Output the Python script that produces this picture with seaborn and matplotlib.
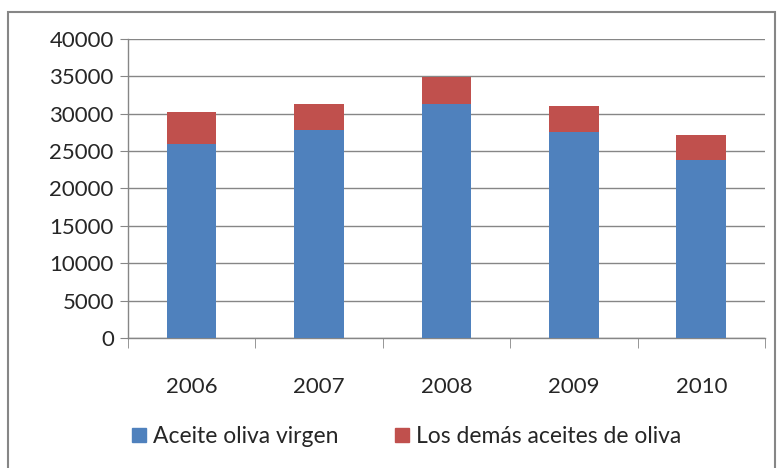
import matplotlib
matplotlib.use("Agg")
import matplotlib.pyplot as plt
import seaborn as sns
import pandas as pd
import numpy as np
from matplotlib.patches import Patch, Rectangle

# data
years = ["2006", "2007", "2008", "2009", "2010"]
virgen = [26000, 27850, 31250, 27600, 23850]
demas = [4200, 3400, 3650, 3400, 3350]
series_names = ["Aceite oliva virgen", "Los demás aceites de oliva"]

blue = "#4F81BD"
red = "#C0504D"
grid_gray = "#868686"

df = pd.DataFrame({"year": years, "virgen": virgen, "demas": demas})
df["total"] = df["virgen"] + df["demas"]

sns.set_style("white")
plt.rcParams["font.family"] = ["Lato", "DejaVu Sans"]

fig = plt.figure(figsize=(7.79, 4.68), dpi=100)
ax = fig.add_axes([0.164, 0.278, 0.818, 0.639])

# red drawn as full total, blue over it
sns.barplot(data=df, x="year", y="total", color=red, width=0.39,
            saturation=1, linewidth=0, ax=ax, zorder=3)
sns.barplot(data=df, x="year", y="virgen", color=blue, width=0.39,
            saturation=1, linewidth=0, ax=ax, zorder=4)

ax.set_ylim(0, 40000)
ax.set_xlim(-0.5, 4.5)
ax.set_yticks(np.arange(0, 40001, 5000))
ax.yaxis.grid(True, color=grid_gray, linewidth=1, zorder=0)
ax.set_axisbelow(True)
ax.set_xlabel("")
ax.set_ylabel("")

for s in ["top", "right"]:
    ax.spines[s].set_visible(False)
for s in ["left", "bottom"]:
    ax.spines[s].set_color(grid_gray)
    ax.spines[s].set_linewidth(1)

ax.tick_params(axis="y", length=6, color=grid_gray, labelsize=16, pad=4,
               left=True)
ax.tick_params(axis="x", length=0, labelsize=16, pad=28)
ax.set_xticks(np.arange(-0.5, 5, 1), minor=True)
ax.tick_params(axis="x", which="minor", length=7, color=grid_gray,
               bottom=True)

handles = [Patch(color=blue, label=series_names[0]),
           Patch(color=red, label=series_names[1])]
fig.legend(handles=handles, loc="center", bbox_to_anchor=(0.522, 0.067),
           ncol=2, frameon=False, fontsize=16.5, handlelength=0.6,
           handleheight=0.6, handletextpad=0.3, columnspacing=2.5)

# outer chart-area border
fig.patches.append(Rectangle((8 / 779, -0.05), 0.995 - 8 / 779, 1 - 12 / 468 + 0.05,
                             transform=fig.transFigure, fill=False,
                             edgecolor=grid_gray, linewidth=1.5))

fig.savefig("out.png", dpi=100)
